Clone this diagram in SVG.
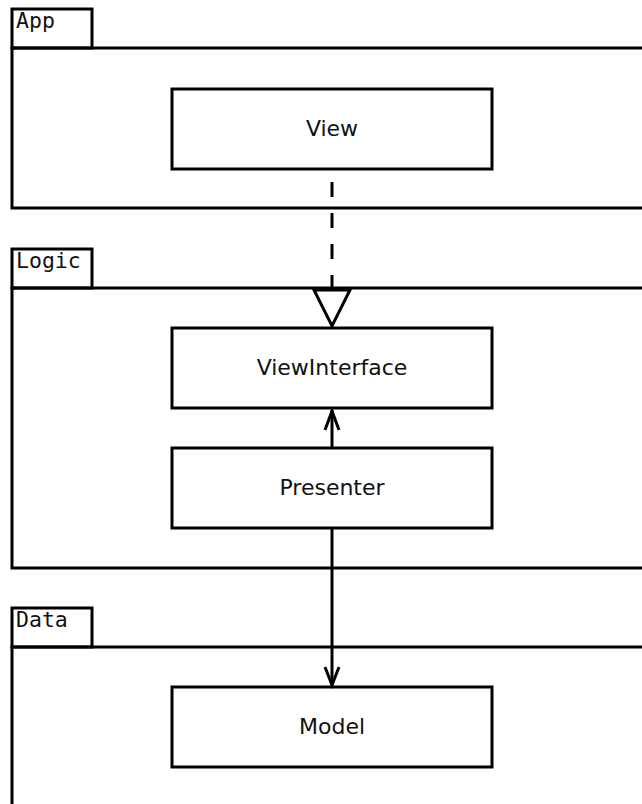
<svg xmlns="http://www.w3.org/2000/svg" width="642" height="804" viewBox="0 0 642 804">
  <style>
    .pkg { fill: none; stroke: #000; stroke-width: 3; }
    .pkg-label { font-family: "DejaVu Sans Mono", monospace; font-size: 21.5px; fill: #111; }
    .box { fill: #fff; stroke: #000; stroke-width: 3; }
    .label { font-family: "DejaVu Sans", sans-serif; font-size: 22px; fill: #111; text-anchor: middle; }
    .edge { fill: none; stroke: #000; stroke-width: 3; }
  </style>
  <rect width="642" height="804" fill="#fff"/>

  <g id="pkg-app">
    <rect class="pkg" x="12" y="9" width="80" height="39"/>
    <rect class="pkg" x="12" y="48" width="660" height="160"/>
    <text class="pkg-label" x="16" y="28">App</text>
  </g>
  <g id="pkg-logic">
    <rect class="pkg" x="12" y="249" width="80" height="39"/>
    <rect class="pkg" x="12" y="288" width="660" height="280"/>
    <text class="pkg-label" x="16" y="268">Logic</text>
  </g>
  <g id="pkg-data">
    <rect class="pkg" x="12" y="608" width="80" height="39"/>
    <rect class="pkg" x="12" y="647" width="660" height="200"/>
    <text class="pkg-label" x="16" y="627">Data</text>
  </g>

  <g id="view">
    <rect class="box" x="172" y="89" width="320" height="80"/>
    <text class="label" x="332" y="136">View</text>
  </g>
  <g id="viewinterface">
    <rect class="box" x="172" y="328" width="320" height="80"/>
    <text class="label" x="332" y="375">ViewInterface</text>
  </g>
  <g id="presenter">
    <rect class="box" x="172" y="448" width="320" height="80"/>
    <text class="label" x="332" y="495">Presenter</text>
  </g>
  <g id="model">
    <rect class="box" x="172" y="687" width="320" height="80"/>
    <text class="label" x="332" y="734">Model</text>
  </g>

  <g id="connectors">
    <!-- View realizes ViewInterface -->
    <line class="edge" x1="332" y1="169" x2="332" y2="290" stroke-dasharray="15 16" stroke-dashoffset="18"/>
    <polygon class="edge" points="314,290 350,290 332,326" fill="#fff"/>
    <!-- Presenter uses ViewInterface -->
    <line class="edge" x1="332" y1="448" x2="332" y2="410"/>
    <polyline class="edge" points="325,430 332,411 339,430"/>
    <!-- Presenter uses Model -->
    <line class="edge" x1="332" y1="528" x2="332" y2="685"/>
    <polyline class="edge" points="325,667 332,685 339,667"/>
  </g>
</svg>
